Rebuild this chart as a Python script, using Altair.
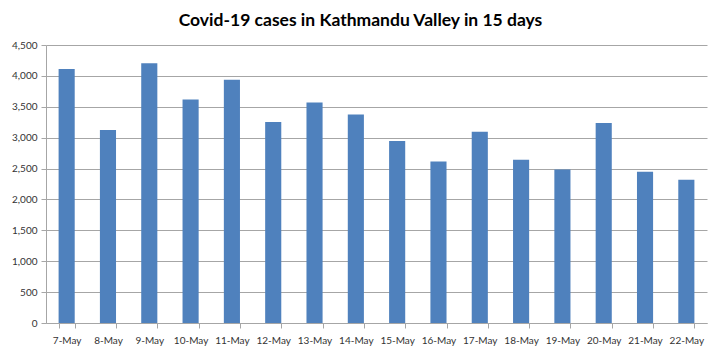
import altair as alt
import pandas as pd

days = ["7-May", "8-May", "9-May", "10-May", "11-May", "12-May", "13-May", "14-May",
        "15-May", "16-May", "17-May", "18-May", "19-May", "20-May", "21-May", "22-May"]
cases = [4110, 3125, 4205, 3618, 3937, 3252, 3570, 3376,
         2945, 2615, 3096, 2643, 2486, 3236, 2448, 2319]
y_ticks = [0, 500, 1000, 1500, 2000, 2500, 3000, 3500, 4000, 4500]

df = pd.DataFrame({"day": days, "cases": cases})

chart = alt.Chart(df).mark_bar(color="#4F81BD").encode(
    x=alt.X("day:N", sort=days, title=None,
            scale=alt.Scale(paddingInner=0.61, paddingOuter=0.305),
            axis=alt.Axis(labelAngle=0, labelFont="Lato", labelFontSize=10,
                          labelColor="#333333", domainColor="#A6A6A6",
                          tickColor="#A6A6A6", tickSize=5, tickBand="extent",
                          labelPadding=7, grid=False)),
    y=alt.Y("cases:Q", title=None,
            scale=alt.Scale(domain=[0, 4500], nice=False),
            axis=alt.Axis(values=y_ticks, format=",.0f", labelFont="Lato",
                          labelFontSize=10, labelColor="#333333",
                          domainColor="#A6A6A6", tickColor="#A6A6A6",
                          tickSize=5, labelPadding=4, gridColor="#A6A6A6",
                          gridWidth=1)),
).properties(
    width=661, height=278,
    background="white",
    title=alt.TitleParams("Covid-19 cases in Kathmandu Valley in 15 days",
                          font="Lato", fontSize=17.5, fontWeight="bold",
                          color="#000000", anchor="middle", dx=-16, offset=11),
    autosize=alt.AutoSizeParams(type="none"),
    padding={"left": 38, "top": 37, "right": 5, "bottom": 28},
).configure_view(strokeWidth=0)

chart.save("out.html", embed_options={"renderer": "svg", "actions": False})
